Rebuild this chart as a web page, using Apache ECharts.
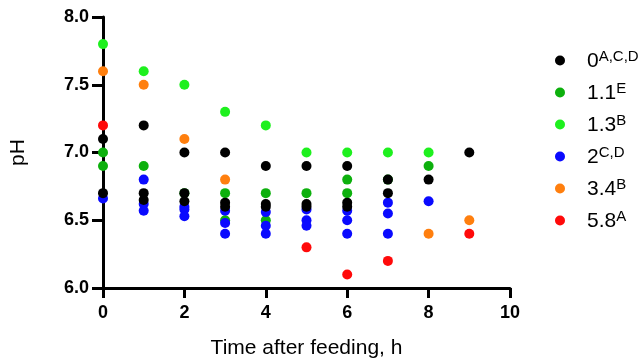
<!DOCTYPE html>
<html><head><meta charset="utf-8">
<script src="https://cdn.jsdelivr.net/npm/echarts@6/dist/echarts.min.js"></script>
<style>html,body{margin:0;padding:0;background:#fff}#c{width:644px;height:364px}</style>
</head><body><div id="c"></div>
<script>
// Series names, superscripts, colours
const seriesNames = ['0', '1.1', '1.3', '2', '3.4', '5.8'];
const seriesSup = ['A,C,D', 'E', 'B', 'C,D', 'B', 'A'];
const seriesColors = ['#000000', '#0db00d', '#1ef01e', '#0a0aff', '#ff7f0e', '#ff0a0a'];
const seriesZ = [10, 3, 4, 5, 6, 7];

// [time, pH] observations per series
const ph0 = [[0,7.1],[0,6.7],[1,7.2],[1,6.7],[1,6.65],[2,7.0],[2,6.7],[2,6.64],[3,7.0],[3,6.63],[3,6.6],[4,6.9],[4,6.62],[4,6.6],[5,6.9],[5,6.62],[5,6.6],[6,6.9],[6,6.63],[6,6.6],[7,6.8],[7,6.7],[8,6.8],[9,7.0]];
const ph11 = [[0,7.0],[0,6.9],[1,6.9],[2,6.7],[3,6.7],[3,6.5],[4,6.7],[4,6.5],[5,6.7],[6,6.8],[6,6.7],[7,6.8],[8,6.9]];
const ph13 = [[0,7.8],[1,7.6],[2,7.5],[3,7.3],[4,7.2],[5,7.0],[6,7.0],[7,7.0],[8,7.0]];
const ph2 = [[0,6.66],[1,6.8],[1,6.62],[1,6.57],[2,6.6],[2,6.58],[2,6.53],[3,6.57],[3,6.48],[3,6.4],[4,6.56],[4,6.46],[4,6.4],[5,6.58],[5,6.5],[5,6.46],[6,6.57],[6,6.5],[6,6.4],[7,6.63],[7,6.55],[7,6.4],[8,6.64]];
const ph34 = [[0,7.6],[1,7.5],[2,7.1],[3,6.8],[8,6.4],[9,6.5]];
const ph58 = [[0,7.2],[5,6.3],[6,6.1],[7,6.2],[9,6.4]];
const seriesData = [ph0, ph11, ph13, ph2, ph34, ph58];

const xTicks = [0, 2, 4, 6, 8, 10];
const yTicks = [6.0, 6.5, 7.0, 7.5, 8.0];

const chart = echarts.init(document.getElementById('c'));
const font = 'Liberation Sans, Arial, sans-serif';
const axisLine = {lineStyle: {color: '#000', width: 3}};
chart.setOption({
  animation: false,
  grid: {left: 100, right: 134, top: 17, bottom: 72, containLabel: false},
  legend: {
    orient: 'vertical', left: 550, top: 44, itemGap: 8,
    icon: 'circle', itemWidth: 10, itemHeight: 10,
    data: seriesNames,
    formatter: function (n) { return '{n|' + n + '}{s|' + seriesSup[seriesNames.indexOf(n)] + '}'; },
    textStyle: {
      fontFamily: font, color: '#000', padding: [0, 0, 0, 17],
      rich: {
        n: {fontSize: 21, fontFamily: font, color: '#000', lineHeight: 23, verticalAlign: 'bottom'},
        s: {fontSize: 15, fontFamily: font, color: '#000', lineHeight: 23, verticalAlign: 'top', padding: [0, 0, 9, 0]}
      }
    }
  },
  xAxis: {
    type: 'value', min: xTicks[0], max: xTicks[xTicks.length - 1], interval: 2,
    name: 'Time after feeding, h', nameLocation: 'middle', nameGap: 50,
    nameTextStyle: {fontFamily: font, fontSize: 21, color: '#000'},
    axisLine: axisLine,
    axisTick: {show: true, length: 10, lineStyle: {color: '#000', width: 3}},
    axisLabel: {fontFamily: font, fontSize: 18, fontWeight: 'bold', color: '#000', margin: 16},
    splitLine: {show: false}
  },
  yAxis: {
    type: 'value', min: yTicks[0], max: yTicks[yTicks.length - 1], interval: 0.5,
    name: 'pH', nameLocation: 'middle', nameGap: 74, nameRotate: 90,
    nameTextStyle: {fontFamily: font, fontSize: 21, color: '#000'},
    axisLine: axisLine,
    axisTick: {show: true, length: 11, lineStyle: {color: '#000', width: 3}},
    axisLabel: {fontFamily: font, fontSize: 18, fontWeight: 'bold', color: '#000', margin: 14,
      formatter: v => v.toFixed(1)},
    splitLine: {show: false}
  },
  series: seriesNames.map((n, i) => ({
    name: n, type: 'scatter', data: seriesData[i], symbol: 'circle', symbolSize: 10, z: seriesZ[i],
    itemStyle: {color: seriesColors[i], opacity: 1}, clip: false
  }))
});
</script></body></html>
